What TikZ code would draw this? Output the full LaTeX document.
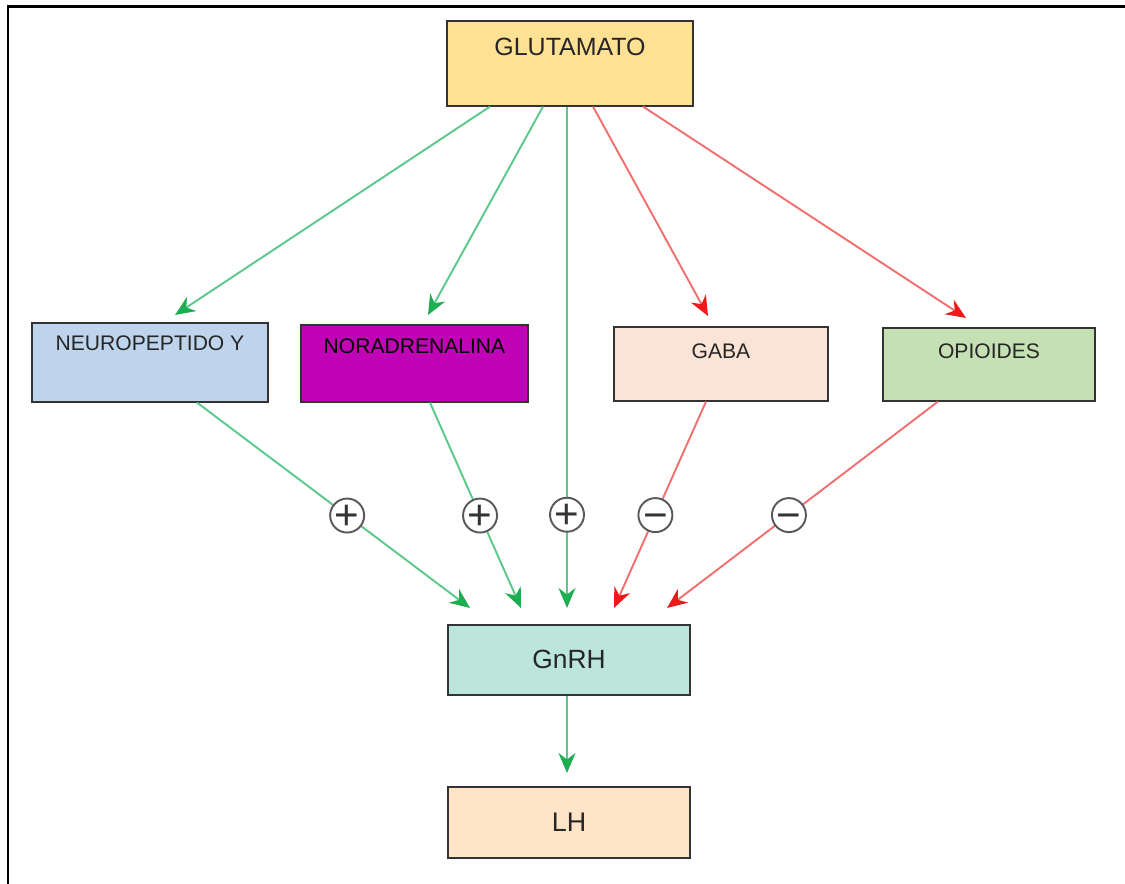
\documentclass[tikz,border=0pt]{standalone}
\usepackage{fontspec}
\setmainfont{Liberation Sans}
\usepackage{tikz}
\usetikzlibrary{arrows.meta,calc,positioning}
\definecolor{gluFill}{HTML}{FFE194}
\definecolor{npyFill}{HTML}{BDD4EC}
\definecolor{norFill}{HTML}{C003B5}
\definecolor{gabaFill}{HTML}{FBE3D6}
\definecolor{opiFill}{HTML}{C5E0B2}
\definecolor{gnrhFill}{HTML}{BCE5DB}
\definecolor{lhFill}{HTML}{FFE4C8}
\definecolor{excLine}{HTML}{5CC98B}
\definecolor{excHead}{HTML}{1EAE52}
\definecolor{inhLine}{HTML}{F27070}
\definecolor{inhHead}{HTML}{EE1A1A}
\newcommand{\signtxt}[1]{\raisebox{-0.33em}{#1}}

\begin{document}
\begin{tikzpicture}[x=0.02cm,y=-0.02cm,
  box/.style={draw=black!80,line width=0.9pt,inner sep=0pt,anchor=north,text=black!85},
  exc/.style={line width=1.1pt,draw=excLine,-{Stealth[length=0.4cm,width=0.34cm,inset=0.13cm,color=excHead]}},
  inh/.style={line width=1.1pt,draw=inhLine,-{Stealth[length=0.4cm,width=0.34cm,inset=0.13cm,color=inhHead]}},
  sign/.style={circle,draw=black!65,line width=1.1pt,fill=white,minimum size=0.68cm,inner sep=0pt,
    text height=0pt,text depth=0pt,text=black!80,font=\fontsize{24}{24}\selectfont}]
  \useasboundingbox (0,0) rectangle (1125,884);
  % frame
  \draw[line width=1.7pt] (8,884) -- (8,7) -- (1125,7);

  % boxes
  \node[box,fill=gluFill,minimum width=4.92cm,text height=0.7cm,text depth=1.0cm,
    font=\fontsize{14.2}{14.2}\selectfont] (glu) at (570,20) {GLUTAMATO};
  \node[box,fill=npyFill,minimum width=4.72cm,text height=0.55cm,text depth=1.03cm,
    font=\fontsize{12}{12}\selectfont] (npy) at (150,322) {NEUROPEPTIDO Y};
  \node[box,fill=norFill,minimum width=4.54cm,text height=0.58cm,text depth=0.96cm,
    font=\fontsize{12}{12}\selectfont,text=black] (nor) at (414.5,324) {NORADRENALINA};
  \node[box,fill=gabaFill,minimum width=4.28cm,text height=0.64cm,text depth=0.84cm,
    font=\fontsize{12}{12}\selectfont] (gaba) at (721,326) {GABA};
  \node[box,fill=opiFill,minimum width=4.24cm,text height=0.62cm,text depth=0.84cm,
    font=\fontsize{12}{12}\selectfont] (opi) at (989,327) {OPIOIDES};
  \node[box,fill=gnrhFill,minimum width=4.84cm,text height=0.87cm,text depth=0.53cm,
    font=\fontsize{15}{15}\selectfont] (gnrh) at (569,624) {GnRH};
  \node[box,fill=lhFill,minimum width=4.84cm,text height=0.9cm,text depth=0.52cm,
    font=\fontsize{15.3}{15.3}\selectfont] (lh) at (569,786) {LH};

  % from glutamato
  \draw[exc] ($(glu.south)+(-80,0)$) -- ($(npy.north)+(25,-7)$);
  \draw[exc] ($(glu.south)+(-27,0)$) -- ($(nor.north)+(13.5,-9)$);
  \draw[exc] ($(glu.south)+(-3,0)$) -- ($(gnrh.north)+(-2,-16)$)
    node[sign,pos=0.814] (sg) {\signtxt{+}};
  \draw[inh] ($(glu.south)+(23,0)$) -- ($(gaba.north)+(-13,-10)$);
  \draw[inh] ($(glu.south)+(73,0)$) -- ($(opi.north)+(-23,-9)$);

  % into GnRH
  \draw[exc] ($(npy.south)+(47,0)$) -- ($(gnrh.north)+(-99,-16)$)
    node[sign,pos=0.55] (snpy) {\signtxt{+}};
  \draw[exc] ($(nor.south)+(15.5,0)$) -- ($(gnrh.north)+(-48,-16)$)
    node[sign,pos=0.55] (snor) {\signtxt{+}};
  \draw[inh] ($(gaba.south)+(-15,0)$) -- ($(gnrh.north)+(45,-16)$)
    node[sign,pos=0.55] (sgaba) {\signtxt{−}};
  \draw[inh] ($(opi.south)+(-51,0)$) -- ($(gnrh.north)+(98,-16)$)
    node[sign,pos=0.55] (sopi) {\signtxt{−}};

  \draw[exc] ($(gnrh.south)+(-2,0)$) -- ($(lh.north)+(-2,-13)$);
\end{tikzpicture}
\end{document}
